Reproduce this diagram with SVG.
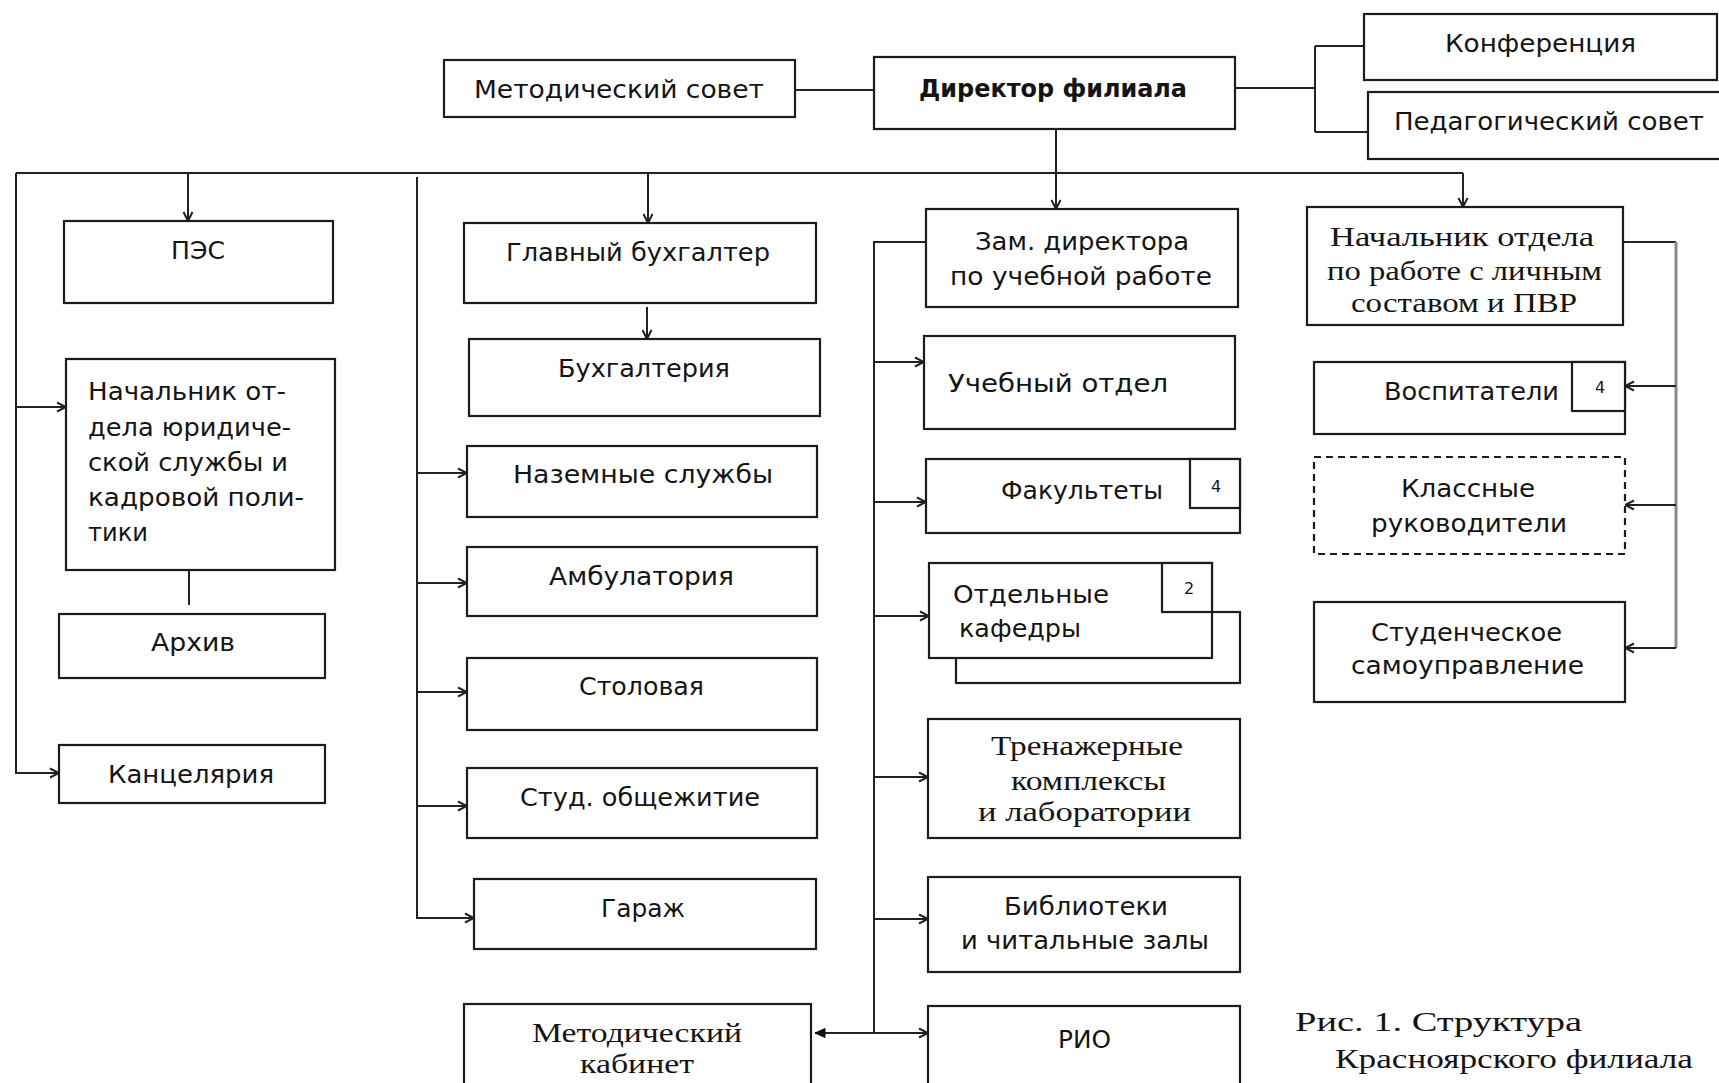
<svg xmlns="http://www.w3.org/2000/svg" width="1719" height="1083" viewBox="0 0 1719 1083">
<defs>
<marker id="arr" viewBox="0 0 12 12" refX="11" refY="6" markerWidth="12" markerHeight="12" markerUnits="userSpaceOnUse" orient="auto">
<path d="M2,1.5 L11,6 L2,10.5" fill="none" stroke="#222" stroke-width="2"/>
</marker>
<marker id="arrF" viewBox="0 0 12 12" refX="11" refY="6" markerWidth="12" markerHeight="12" markerUnits="userSpaceOnUse" orient="auto">
<path d="M1,1.5 L11,6 L1,10.5 Z" fill="#111" stroke="#111" stroke-width="1"/>
</marker>
<style>
.box{fill:#fff;stroke:#1c1c1c;stroke-width:2.2}
.dash{fill:#fff;stroke:#1c1c1c;stroke-width:2.2;stroke-dasharray:7 5}
.ln{fill:none;stroke:#222;stroke-width:2}
.gl{fill:none;stroke:#8a8a8a;stroke-width:3}
.a{marker-end:url(#arr)}
.t{font-family:"DejaVu Sans","Noto Sans",sans-serif;font-size:24px;fill:#141414}
.b{font-weight:bold}
.s{font-family:"Liberation Serif","DejaVu Serif",serif;font-size:27px;fill:#141414}
.n{font-family:"DejaVu Sans",sans-serif;font-size:16px;fill:#141414;text-anchor:middle}
</style>
</defs>

<g id="connectors">
<path class="ln" d="M795,90 H874"/>
<path class="ln" d="M1235,88 H1315 M1315,46 V132 M1315,46 H1364 M1315,132 H1368"/>
<path class="ln a" d="M1056,129 V209"/>
<path class="ln" d="M16,173 H1463"/>
<path class="ln a" d="M1463,173 V207"/>
<path class="ln a" d="M16,173 V773 H59"/>
<path class="ln a" d="M16,407 H66"/>
<path class="ln a" d="M188,173 V221"/>
<path class="ln a" d="M648,173 V223"/>
<path class="ln a" d="M647,307 V339"/>
<path class="ln" d="M189,570 V605"/>
<path class="ln a" d="M417,177 V918 H474"/>
<path class="ln a" d="M417,473 H467"/>
<path class="ln a" d="M417,583 H467"/>
<path class="ln a" d="M417,692 H467"/>
<path class="ln a" d="M417,806 H467"/>
<path class="ln a" d="M926,242 H874 V1033 H928"/>
<path class="ln a" d="M874,362 H924"/>
<path class="ln a" d="M874,502 H926"/>
<path class="ln a" d="M874,616 H929"/>
<path class="ln a" d="M874,777 H928"/>
<path class="ln a" d="M874,919 H928"/>
<path class="ln" d="M874,1033 H815" marker-end="url(#arrF)"/>
<path class="ln" d="M1623,242 H1676"/>
<path class="gl" d="M1676,242 V648"/>
<path class="ln a" d="M1676,386 H1625"/>
<path class="ln a" d="M1676,505 H1625"/>
<path class="ln a" d="M1676,648 H1625"/>
</g>

<g id="metsovet"><rect class="box" x="444" y="60" width="351" height="57"/><text class="t" x="474" y="98" textLength="290" lengthAdjust="spacingAndGlyphs">Методический совет</text></g>
<g id="director"><rect class="box" x="874" y="57" width="361" height="72"/><text class="t b" x="919" y="97" textLength="268" lengthAdjust="spacingAndGlyphs">Директор филиала</text></g>
<g id="konferencia"><rect class="box" x="1364" y="14" width="353" height="66"/><text class="t" x="1445" y="52" textLength="191" lengthAdjust="spacingAndGlyphs">Конференция</text></g>
<g id="pedsovet"><rect class="box" x="1368" y="92" width="360" height="67"/><text class="t" x="1394" y="130" textLength="310" lengthAdjust="spacingAndGlyphs">Педагогический совет</text></g>

<g id="pes"><rect class="box" x="64" y="221" width="269" height="82"/><text class="t" x="171" y="259" textLength="54" lengthAdjust="spacingAndGlyphs">ПЭС</text></g>
<g id="nachyur"><rect class="box" x="66" y="359" width="269" height="211"/>
<text class="t" x="88" y="400" textLength="198" lengthAdjust="spacingAndGlyphs">Начальник от-</text>
<text class="t" x="88" y="436" textLength="203" lengthAdjust="spacingAndGlyphs">дела юридиче-</text>
<text class="t" x="88" y="471" textLength="200" lengthAdjust="spacingAndGlyphs">ской службы и</text>
<text class="t" x="88" y="506" textLength="216" lengthAdjust="spacingAndGlyphs">кадровой поли-</text>
<text class="t" x="88" y="541" textLength="60" lengthAdjust="spacingAndGlyphs">тики</text></g>
<g id="arhiv"><rect class="box" x="59" y="614" width="266" height="64"/><text class="t" x="151" y="651" textLength="84" lengthAdjust="spacingAndGlyphs">Архив</text></g>
<g id="kanc"><rect class="box" x="59" y="745" width="266" height="58"/><text class="t" x="108" y="783" textLength="166" lengthAdjust="spacingAndGlyphs">Канцелярия</text></g>

<g id="glbuh"><rect class="box" x="464" y="223" width="352" height="80"/><text class="t" x="506" y="261" textLength="264" lengthAdjust="spacingAndGlyphs">Главный бухгалтер</text></g>
<g id="buh"><rect class="box" x="469" y="339" width="351" height="77"/><text class="t" x="558" y="377" textLength="172" lengthAdjust="spacingAndGlyphs">Бухгалтерия</text></g>
<g id="nazem"><rect class="box" x="467" y="446" width="350" height="71"/><text class="t" x="513" y="483" textLength="260" lengthAdjust="spacingAndGlyphs">Наземные службы</text></g>
<g id="ambul"><rect class="box" x="467" y="547" width="350" height="69"/><text class="t" x="549" y="585" textLength="185" lengthAdjust="spacingAndGlyphs">Амбулатория</text></g>
<g id="stol"><rect class="box" x="467" y="658" width="350" height="72"/><text class="t" x="579" y="695" textLength="125" lengthAdjust="spacingAndGlyphs">Столовая</text></g>
<g id="obsh"><rect class="box" x="467" y="768" width="350" height="70"/><text class="t" x="520" y="806" textLength="240" lengthAdjust="spacingAndGlyphs">Студ. общежитие</text></g>
<g id="garazh"><rect class="box" x="474" y="879" width="342" height="70"/><text class="t" x="601" y="917" textLength="84" lengthAdjust="spacingAndGlyphs">Гараж</text></g>
<g id="metkab"><rect class="box" x="464" y="1004" width="347" height="100"/>
<text class="s" x="532" y="1042" font-size="29" textLength="210" lengthAdjust="spacingAndGlyphs">Методический</text>
<text class="s" x="580" y="1073" font-size="29" textLength="114" lengthAdjust="spacingAndGlyphs">кабинет</text></g>

<g id="zam"><rect class="box" x="926" y="209" width="312" height="98"/>
<text class="t" x="975" y="250" textLength="214" lengthAdjust="spacingAndGlyphs">Зам. директора</text>
<text class="t" x="950" y="285" textLength="262" lengthAdjust="spacingAndGlyphs">по учебной работе</text></g>
<g id="ucheb"><rect class="box" x="924" y="336" width="311" height="93"/><text class="t" x="948" y="392" textLength="220" lengthAdjust="spacingAndGlyphs">Учебный отдел</text></g>
<g id="fakult"><rect class="box" x="926" y="459" width="314" height="74"/><rect class="box" x="1190" y="459" width="50" height="49"/>
<text class="t" x="1001" y="499" textLength="162" lengthAdjust="spacingAndGlyphs">Факультеты</text><text class="n" x="1216" y="492">4</text></g>
<g id="kafedry"><rect class="box" x="956" y="612" width="284" height="71"/><rect class="box" x="929" y="563" width="283" height="95"/><rect class="box" x="1162" y="563" width="50" height="49"/>
<text class="t" x="953" y="603" textLength="156" lengthAdjust="spacingAndGlyphs">Отдельные</text>
<text class="t" x="959" y="637" textLength="122" lengthAdjust="spacingAndGlyphs">кафедры</text><text class="n" x="1189" y="594">2</text></g>
<g id="trenazh"><rect class="box" x="928" y="719" width="312" height="119"/>
<text class="s" x="991" y="755" textLength="192" lengthAdjust="spacingAndGlyphs">Тренажерные</text>
<text class="s" x="1011" y="790" textLength="155" lengthAdjust="spacingAndGlyphs">комплексы</text>
<text class="s" x="978" y="821" textLength="213" lengthAdjust="spacingAndGlyphs">и лаборатории</text></g>
<g id="bibl"><rect class="box" x="928" y="877" width="312" height="95"/>
<text class="t" x="1004" y="915" textLength="164" lengthAdjust="spacingAndGlyphs">Библиотеки</text>
<text class="t" x="961" y="949" textLength="248" lengthAdjust="spacingAndGlyphs">и читальные залы</text></g>
<g id="rio"><rect class="box" x="928" y="1006" width="312" height="100"/><text class="t" x="1058" y="1048" textLength="53" lengthAdjust="spacingAndGlyphs">РИО</text></g>

<g id="nachpvr"><rect class="box" x="1307" y="207" width="316" height="118"/>
<text class="s" x="1330" y="246" textLength="264" lengthAdjust="spacingAndGlyphs">Начальник отдела</text>
<text class="s" x="1327" y="280" textLength="275" lengthAdjust="spacingAndGlyphs">по работе с личным</text>
<text class="s" x="1351" y="312" textLength="226" lengthAdjust="spacingAndGlyphs">составом и ПВР</text></g>
<g id="vospit"><rect class="box" x="1314" y="362" width="311" height="72"/><rect class="box" x="1572" y="362" width="53" height="49"/>
<text class="t" x="1384" y="400" textLength="175" lengthAdjust="spacingAndGlyphs">Воспитатели</text><text class="n" x="1600" y="393">4</text></g>
<g id="klass"><rect class="dash" x="1314" y="457" width="311" height="97"/>
<text class="t" x="1401" y="497" textLength="134" lengthAdjust="spacingAndGlyphs">Классные</text>
<text class="t" x="1371" y="532" textLength="196" lengthAdjust="spacingAndGlyphs">руководители</text></g>
<g id="studsam"><rect class="box" x="1314" y="602" width="311" height="100"/>
<text class="t" x="1371" y="641" textLength="191" lengthAdjust="spacingAndGlyphs">Студенческое</text>
<text class="t" x="1351" y="674" textLength="233" lengthAdjust="spacingAndGlyphs">самоуправление</text></g>

<g id="caption">
<text class="s" x="1295" y="1031" font-size="36" textLength="287" lengthAdjust="spacingAndGlyphs">Рис. 1. Структура</text>
<text class="s" x="1335" y="1068" font-size="36" textLength="358" lengthAdjust="spacingAndGlyphs">Красноярского филиала</text>
<text class="s" x="1437" y="1104" font-size="36" textLength="236" lengthAdjust="spacingAndGlyphs">СПбГУ ГА»</text>
</g>
</svg>
